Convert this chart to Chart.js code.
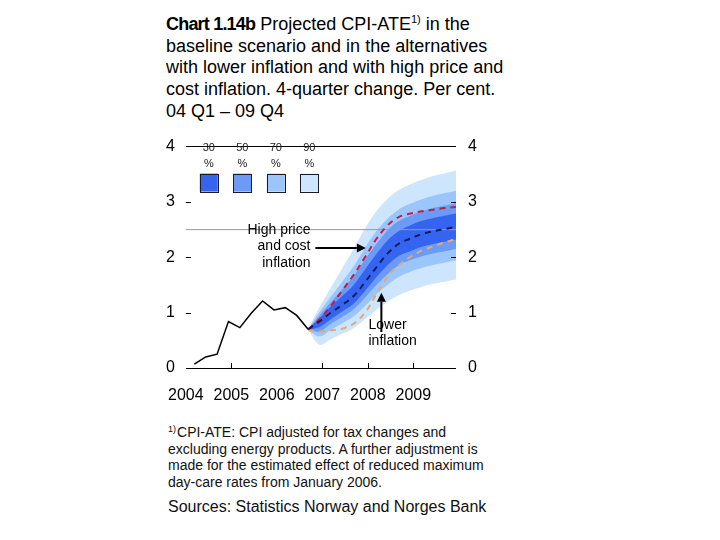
<!DOCTYPE html>
<html>
<head>
<meta charset="utf-8">
<script src="https://cdn.jsdelivr.net/npm/chart.js@4.4.1/dist/chart.umd.min.js"></script>
<style>
  html, body { margin: 0; padding: 0; background: #fff; }
  body { width: 720px; height: 540px; position: relative; overflow: hidden;
         font-family: Arial, "Liberation Sans", sans-serif; color: #000; }
  #title { position: absolute; left: 166px; top: 14px; font-size: 18px; line-height: 21.7px; white-space: nowrap; }
  #title b { letter-spacing: -0.8px; }
  #title sup { font-size: 11px; line-height: 0; vertical-align: 7px; }
  #wrap { position: absolute; left: 150px; top: 125px; width: 350px; height: 290px; }
  #note { position: absolute; left: 168px; top: 424px; font-size: 14px; line-height: 16.7px; white-space: nowrap; color: #111; }
  #note sup { font-size: 9px; line-height: 0; vertical-align: 5px; margin-right: 1px; }
  #src { position: absolute; left: 168px; top: 497px; font-size: 16px; line-height: 20px; white-space: nowrap; color: #111; }
</style>
</head>
<body>
<div id="title"><b>Chart 1.14b</b> Projected CPI-ATE<sup>1)</sup> in the<br>baseline scenario and in the alternatives<br>with lower inflation and with high price and<br>cost inflation. 4-quarter change. Per cent.<br>04 Q1 – 09 Q4</div>
<div id="wrap"><canvas id="chart" width="350" height="290"></canvas></div>
<div id="note"><sup>1)</sup>CPI-ATE: CPI adjusted for tax changes and<br>excluding energy products. A further adjustment is<br>made for the estimated effect of reduced maximum<br>day-care rates from January 2006.</div>
<div id="src">Sources: Statistics Norway and Norges Bank</div>

<script>
// Quarter index 0 = 2004 Q1 ... 23 = 2009 Q4
const yearLabels = ["2004", "2005", "2006", "2007", "2008", "2009"];
const yearTickValues = [0, 4, 8, 12, 16, 20];
const xTickMarks = [4, 12, 16, 20];
const yTickValues = [0, 1, 2, 3, 4];
const innerYTicks = [1, 2, 3];
const inflationTarget = 2.5;

// Actual CPI-ATE, 04 Q1 – 06 Q3
const historyStart = 0;
const history = [0.07, 0.20, 0.25, 0.84, 0.73, 0.99, 1.21, 1.05, 1.09, 0.95, 0.70];

// Projections, 06 Q3 – 09 Q4
const fanStart = 10;
const baseline   = [0.70, 0.84, 1.00, 1.14, 1.30, 1.55, 1.82, 2.07, 2.25, 2.34, 2.42, 2.47, 2.51, 2.55];
const highPrice  = [0.70, 0.88, 1.12, 1.40, 1.68, 2.00, 2.33, 2.58, 2.73, 2.79, 2.83, 2.86, 2.89, 2.91];
const lowerInfl  = [0.68, 0.66, 0.68, 0.71, 0.80, 1.00, 1.33, 1.66, 1.86, 2.01, 2.12, 2.20, 2.27, 2.33];

// Fan bands (lower / upper)
const lo90 = [0.69, 0.42, 0.52, 0.62, 0.72, 0.88, 1.05, 1.20, 1.32, 1.40, 1.47, 1.52, 1.56, 1.60];
const up90 = [0.70, 1.10, 1.45, 1.80, 2.15, 2.52, 2.83, 3.06, 3.22, 3.32, 3.40, 3.47, 3.52, 3.57];
const lo70 = [0.69, 0.57, 0.69, 0.81, 0.93, 1.12, 1.33, 1.51, 1.65, 1.74, 1.81, 1.86, 1.90, 1.94];
const up70 = [0.70, 1.01, 1.29, 1.56, 1.84, 2.17, 2.47, 2.70, 2.87, 2.97, 3.05, 3.11, 3.16, 3.20];
const lo50 = [0.69, 0.66, 0.80, 0.92, 1.06, 1.27, 1.50, 1.70, 1.86, 1.95, 2.02, 2.07, 2.11, 2.15];
const up50 = [0.70, 0.95, 1.19, 1.42, 1.66, 1.96, 2.24, 2.49, 2.66, 2.75, 2.83, 2.89, 2.93, 2.98];
const lo30 = [0.69, 0.74, 0.88, 1.02, 1.16, 1.39, 1.64, 1.86, 2.03, 2.11, 2.19, 2.24, 2.28, 2.32];
const up30 = [0.70, 0.90, 1.11, 1.30, 1.50, 1.78, 2.06, 2.31, 2.48, 2.58, 2.66, 2.71, 2.75, 2.79];

const bandLabels = ["30", "50", "70", "90"];

const C30 = "#3565f0", C50 = "#6b9bf7", C70 = "#9cc5fb", C90 = "#cde5fd";
const bandColors = [C30, C50, C70, C90];

const X_MIN = 0, X_MAX = 23.75;
// points sit late in their quarter
const xPos = (q) => q + 0.75;
const series = (start, vals) => vals.map((v, i) => ({ x: xPos(start + i), y: v }));

const FONT = "Arial, 'Liberation Sans', sans-serif";

function band(lo, up, color, order) {
  return [
    { data: series(fanStart, lo), borderWidth: 0, pointRadius: 0, fill: false, tension: 0.35, order },
    { data: series(fanStart, up), borderWidth: 0, pointRadius: 0, fill: "-1", backgroundColor: color, tension: 0.35, order },
  ];
}

function dashed(vals, color, order) {
  return {
    data: series(fanStart, vals), borderColor: color, borderWidth: 2, borderDash: [6, 5],
    pointRadius: 0, fill: false, tension: 0.35, order,
  };
}

const datasets = [
  ...band(lo90, up90, C90, 10),
  ...band(lo70, up70, C70, 9),
  ...band(lo50, up50, C50, 8),
  ...band(lo30, up30, C30, 7),
  { data: [{ x: X_MIN, y: inflationTarget }, { x: X_MAX, y: inflationTarget }],
    borderColor: "#9a9a9a", borderWidth: 1, pointRadius: 0, fill: false, order: 4 },
  dashed(lowerInfl, "#e2aa72", 3),
  dashed(highPrice, "#c01e4a", 2),
  dashed(baseline, "#101a5c", 1),
  { data: series(historyStart, history), borderColor: "#000", borderWidth: 1.5,
    pointRadius: 0, fill: false, tension: 0, order: 0 },
];

// Text annotations with arrows, anchored in data units
const notes = [
  { lines: ["High price", "and cost", "inflation"], x: 10.96, y: 2.2, align: "right",
    arrow: { from: [11.39, 2.17], to: [15.83, 2.17] } },
  { lines: ["Lower", "inflation"], x: 16.06, y: 0.63, align: "left",
    arrow: { from: [17.19, 0.65], to: [17.19, 1.36] } },
];

function drawArrow(ctx, x1, y1, x2, y2) {
  const ang = Math.atan2(y2 - y1, x2 - x1);
  const hl = 9, hw = 4.5;
  const bx = x2 - hl * Math.cos(ang), by = y2 - hl * Math.sin(ang);
  ctx.beginPath();
  ctx.moveTo(x1, y1);
  ctx.lineTo(bx, by);
  ctx.stroke();
  ctx.beginPath();
  ctx.moveTo(x2, y2);
  ctx.lineTo(bx + hw * Math.sin(ang), by - hw * Math.cos(ang));
  ctx.lineTo(bx - hw * Math.sin(ang), by + hw * Math.cos(ang));
  ctx.closePath();
  ctx.fill();
}

const tickMarks = {
  id: "tickMarks",
  afterDatasetsDraw(chart) {
    const { ctx, chartArea: a, scales: { x, y } } = chart;
    ctx.save();
    ctx.strokeStyle = "#000";
    ctx.lineWidth = 1;
    ctx.beginPath();
    innerYTicks.forEach((v) => {
      const py = Math.round(y.getPixelForValue(v)) + 0.5;
      ctx.moveTo(a.left, py); ctx.lineTo(a.left + 5, py);
      ctx.moveTo(a.right - 5, py); ctx.lineTo(a.right, py);
    });
    xTickMarks.forEach((v) => {
      const px = Math.round(x.getPixelForValue(v)) + 0.5;
      ctx.moveTo(px, a.bottom); ctx.lineTo(px, a.bottom - 5);
    });
    ctx.stroke();
    ctx.restore();
  },
};

const bandLegend = {
  id: "bandLegend",
  beforeDatasetsDraw(chart) {
    const { ctx, chartArea: a } = chart;
    ctx.save();
    ctx.font = "11px " + FONT;
    ctx.textAlign = "center";
    ctx.textBaseline = "middle";
    bandLabels.forEach((lab, i) => {
      const cx = a.left + 23 + i * 33.5;
      ctx.fillStyle = "#222";
      ctx.fillText(lab, cx, a.top + 1);
      ctx.fillText("%", cx, a.top + 17.5);
      ctx.fillStyle = bandColors[i];
      ctx.fillRect(cx - 9, a.top + 27, 18, 18);
      ctx.strokeStyle = "#1a1a2a";
      ctx.lineWidth = 1;
      ctx.strokeRect(Math.round(cx - 9) + 0.5, Math.round(a.top + 27) + 0.5, 18, 18);
    });
    ctx.restore();
  },
};

const annotations = {
  id: "annotations",
  afterDatasetsDraw(chart) {
    const { ctx, scales: { x, y } } = chart;
    ctx.save();
    ctx.font = "14px " + FONT;
    ctx.fillStyle = "#000";
    ctx.strokeStyle = "#000";
    ctx.lineWidth = 2;
    ctx.textBaseline = "middle";
    notes.forEach((n) => {
      ctx.textAlign = n.align;
      const px = x.getPixelForValue(n.x);
      const mid = y.getPixelForValue(n.y);
      const lh = 16.5;
      const top = mid - (lh * (n.lines.length - 1)) / 2;
      n.lines.forEach((t, i) => ctx.fillText(t, px, top + i * lh));
      const a = n.arrow;
      drawArrow(ctx,
        x.getPixelForValue(a.from[0]), y.getPixelForValue(a.from[1]),
        x.getPixelForValue(a.to[0]), y.getPixelForValue(a.to[1]));
    });
    ctx.restore();
  },
};

const yTickFont = { family: FONT, size: 16 };

new Chart(document.getElementById("chart"), {
  type: "line",
  data: { datasets },
  plugins: [bandLegend, tickMarks, annotations],
  options: {
    responsive: false,
    animation: false,
    layout: { padding: { top: 19, left: 0, right: 0, bottom: 0 } },
    plugins: { legend: { display: false }, tooltip: { enabled: false }, title: { display: false } },
    scales: {
      x: {
        type: "linear",
        min: X_MIN,
        max: X_MAX,
        afterBuildTicks: (s) => { s.ticks = yearTickValues.map((v) => ({ value: v })); },
        ticks: {
          autoSkip: false, maxRotation: 0, color: "#000", padding: 18,
          font: { family: FONT, size: 16 },
          callback: (v) => yearLabels[yearTickValues.indexOf(v)],
        },
        grid: { display: false, drawTicks: false },
        border: { display: false },
        afterFit: (s) => { s.height = 47; },
      },
      y: {
        min: 0, max: 4,
        afterBuildTicks: (s) => { s.ticks = yTickValues.map((v) => ({ value: v })); },
        ticks: { color: "#000", padding: 11, font: yTickFont },
        grid: {
          drawTicks: false, lineWidth: 1,
          color: (c) => (c.tick && (c.tick.value === 0 || c.tick.value === 4) ? "#000" : "rgba(0,0,0,0)"),
        },
        border: { display: false },
        afterFit: (s) => { s.width = 33; },
      },
      y2: {
        position: "right",
        min: 0, max: 4,
        afterBuildTicks: (s) => { s.ticks = yTickValues.map((v) => ({ value: v })); },
        ticks: { color: "#000", padding: 12, font: yTickFont },
        grid: { display: false, drawTicks: false },
        border: { display: false },
        afterFit: (s) => { s.width = 44; },
      },
    },
  },
});
</script>
</body>
</html>
